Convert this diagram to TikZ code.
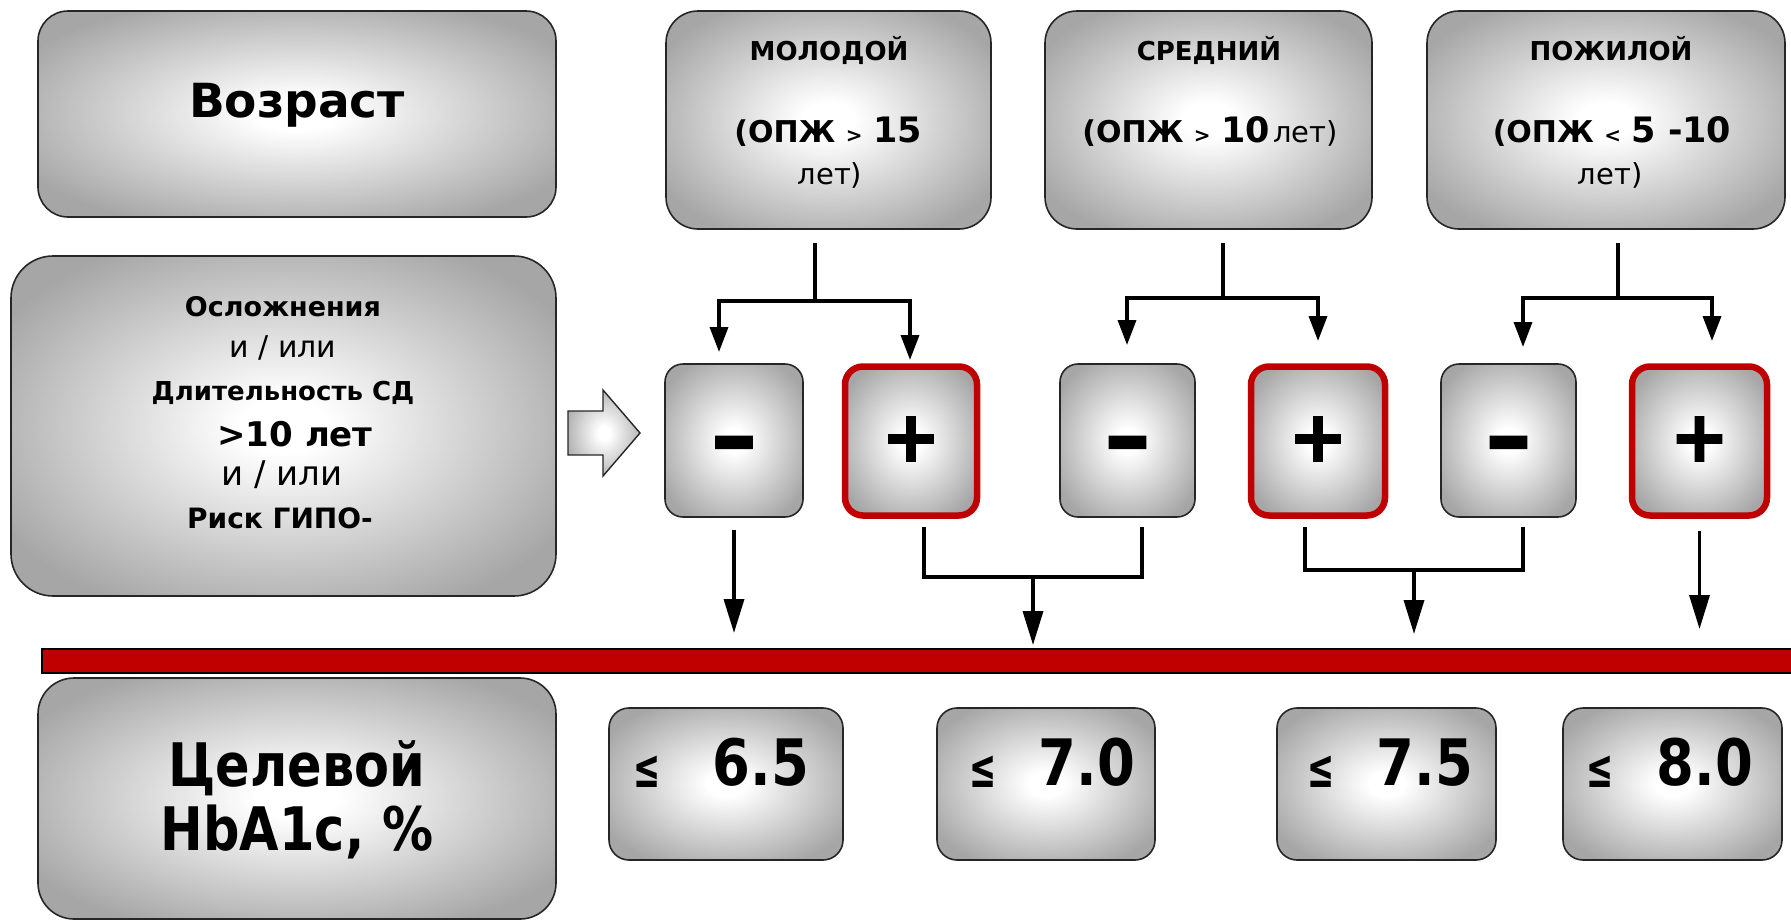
\documentclass[tikz,border=0pt]{standalone}
\usepackage{fontspec}
\setmainfont{DejaVu Sans}
\newfontfamily\condfont{DejaVu Sans}[FakeStretch=0.85]
\newfontfamily\narrowfont{DejaVu Sans}[FakeStretch=0.6]
\newfontfamily\heavyfont{DejaVu Sans Bold}[FakeBold=2.5]
\usetikzlibrary{arrows.meta}
\definecolor{redc}{HTML}{C00000}
\pgfdeclareradialshading{boxshade}{\pgfpoint{0bp}{0bp}}{color(0bp)=(white); color(4bp)=(white); color(30bp)=(gray!70); color(50bp)=(gray!70)}
\newcommand\myfs[1]{\fontsize{#1}{#1}\selectfont}
\begin{document}
\begin{tikzpicture}[x=1pt,y=-1pt,
  gbox/.style={draw=black!85, line width=1.6pt, shading=boxshade, rectangle, inner sep=0pt},
  redbox/.style={gbox, draw=redc, line width=6.5pt},
  conn/.style={line width=3.5pt, black},
  tipS/.style={-{Triangle[length=25pt,width=18pt]}},
  tipL/.style={-{Triangle[length=34pt,width=20pt]}},
  txt/.style={inner sep=0pt, anchor=base}]
\useasboundingbox (0,0) rectangle (1791,921);

% left column boxes
\node[gbox, rounded corners=30pt, minimum width=518pt, minimum height=206pt] (vozr) at (297,114) {};
\node[txt] (vozrT) at (297,117) {\bfseries\myfs{47}Возраст};

\node[gbox, rounded corners=42pt, minimum width=545pt, minimum height=340pt] (osl) at (283.5,426) {};
\node[txt] (o1) at (283,316) {\bfseries\myfs{27}Осложнения};
\node[txt] (o2) at (283,357) {\myfs{30}и / или};
\node[txt] (o3) at (283,400) {\bfseries\myfs{26}Длительность СД};
\node[txt] (o4) at (295,446) {\bfseries\myfs{34}>10 лет};
\node[txt] (o5) at (282,485) {\myfs{34}и / или};
\node[txt] (o6) at (280,528) {\bfseries\myfs{28}Риск ГИПО-};

\node[gbox, rounded corners=36pt, minimum width=518pt, minimum height=241pt] (cel) at (297,798.5) {};
\node[txt] (c1) at (297,786) {\condfont\bfseries\myfs{60}Целевой};
\node[txt] (c2) at (297,850) {\condfont\bfseries\myfs{60}HbA1c, \%};

% age boxes
\node[gbox, rounded corners=32pt, minimum width=325pt, minimum height=218pt] (mol) at (828.5,120) {};
\node[txt] (molA) at (829,60) {\bfseries\myfs{26}МОЛОДОЙ};
\node[txt] (molB) at (828,142) {\bfseries\myfs{30}(ОПЖ {\myfs{20}>} {\myfs{35}15}};
\node[txt] (molC) at (830,184) {\myfs{29}лет)};

\node[gbox, rounded corners=32pt, minimum width=327pt, minimum height=218pt] (sred) at (1208.5,120) {};
\node[txt] (sredA) at (1209,60) {\bfseries\myfs{26}СРЕДНИЙ};
\node[txt] (sredB) at (1210,142) {{\bfseries\myfs{30}(ОПЖ {\myfs{20}>} {\myfs{35}10}} {\myfs{29}лет)}};

\node[gbox, rounded corners=32pt, minimum width=358pt, minimum height=218pt] (pozh) at (1606,120) {};
\node[txt] (pozhA) at (1611,60) {\bfseries\myfs{26}ПОЖИЛОЙ};
\node[txt] (pozhB) at (1612,142) {\bfseries\myfs{30}(ОПЖ {\myfs{20}<} {\myfs{35}5 -10}};
\node[txt] (pozhC) at (1610,184) {\myfs{29}лет)};

% hollow arrow
\path[draw=black!85, line width=1.4pt, shading=boxshade] (568,411) -- (603,411) -- (603,390) -- (640,433) -- (603,476) -- (603,455) -- (568,455) -- cycle;

% sign boxes
\node[gbox, rounded corners=18pt, minimum width=138pt, minimum height=153pt] (s1) at (734,440.5) {};
\node[redbox, rounded corners=18pt, minimum width=132pt, minimum height=149pt] (s2) at (911,441) {};
\node[gbox, rounded corners=18pt, minimum width=135pt, minimum height=153pt] (s3) at (1127.5,440.5) {};
\node[redbox, rounded corners=18pt, minimum width=134pt, minimum height=149pt] (s4) at (1318,441) {};
\node[gbox, rounded corners=18pt, minimum width=135pt, minimum height=153pt] (s5) at (1508.5,440.5) {};
\node[redbox, rounded corners=18pt, minimum width=135pt, minimum height=149pt] (s6) at (1699.5,441) {};

\node[txt] (s1T) at (s1.center |- 0,467) {\heavyfont\myfs{90}–};
\node[txt] (s2T) at (s2.center |- 0,461) {\heavyfont\myfs{70}+};
\node[txt] (s3T) at (s3.center |- 0,467) {\heavyfont\myfs{90}–};
\node[txt] (s4T) at (s4.center |- 0,461) {\heavyfont\myfs{70}+};
\node[txt] (s5T) at (s5.center |- 0,467) {\heavyfont\myfs{90}–};
\node[txt] (s6T) at (s6.center |- 0,461) {\heavyfont\myfs{70}+};

% top connectors
\coordinate (m0) at (815,243); \coordinate (mj) at (815,301);
\coordinate (ma) at (719,352); \coordinate (mb) at (910,360);
\draw[conn] (m0) -- (mj);
\draw[conn,tipS] (mj) -| (ma);
\draw[conn,tipS] (mj) -| (mb);

\coordinate (r0) at (1223,243); \coordinate (rj) at (1223,298);
\coordinate (ra) at (1127,345); \coordinate (rb) at (1318,341);
\draw[conn] (r0) -- (rj);
\draw[conn,tipS] (rj) -| (ra);
\draw[conn,tipS] (rj) -| (rb);

\coordinate (p0) at (1618,243); \coordinate (pj) at (1618,298);
\coordinate (pa) at (1523,347); \coordinate (pb) at (1712,341);
\draw[conn] (p0) -- (pj);
\draw[conn,tipS] (pj) -| (pa);
\draw[conn,tipS] (pj) -| (pb);

% red bar
\node[draw=black, line width=1.5pt, fill=redc, rectangle, inner sep=0pt, minimum width=1760pt, minimum height=24pt] (bar) at (922,661) {};

% bottom connectors
\draw[conn,tipL] (s1.south |- 0,530) -- (s1.south |- 0,633);
\draw[conn] (924,527) -- (924,577) -- (1142,577) -- (1142,527);
\draw[conn,tipL] (1033,577) -- (1033,645);
\draw[conn] (1305,527) -- (1305,570) -- (1523,570) -- (1523,527);
\draw[conn,tipL] (1414,570) -- (1414,634);
\draw[conn,tipL] (s6.south |- 0,531) -- (s6.south |- 0,629);

% value boxes
\node[gbox, rounded corners=20pt, minimum width=234pt, minimum height=152pt] (v1) at (726,784) {};
\node[gbox, rounded corners=20pt, minimum width=218pt, minimum height=152pt] (v2) at (1046,784) {};
\node[gbox, rounded corners=20pt, minimum width=219pt, minimum height=152pt] (v3) at (1386.5,784) {};
\node[gbox, rounded corners=20pt, minimum width=219pt, minimum height=152pt] (v4) at (1672.5,784) {};

\node[txt] (v1a) at (647,787) {\narrowfont\bfseries\myfs{54}≤};
\node[txt] (v1b) at (761,785) {\condfont\bfseries\myfs{64}6.5};
\node[txt] (v2a) at (983,787) {\narrowfont\bfseries\myfs{54}≤};
\node[txt] (v2b) at (1087,785) {\condfont\bfseries\myfs{64}7.0};
\node[txt] (v3a) at (1321,787) {\narrowfont\bfseries\myfs{54}≤};
\node[txt] (v3b) at (1425,785) {\condfont\bfseries\myfs{64}7.5};
\node[txt] (v4a) at (1600,787) {\narrowfont\bfseries\myfs{54}≤};
\node[txt] (v4b) at (1705,785) {\condfont\bfseries\myfs{64}8.0};
\end{tikzpicture}
\end{document}
